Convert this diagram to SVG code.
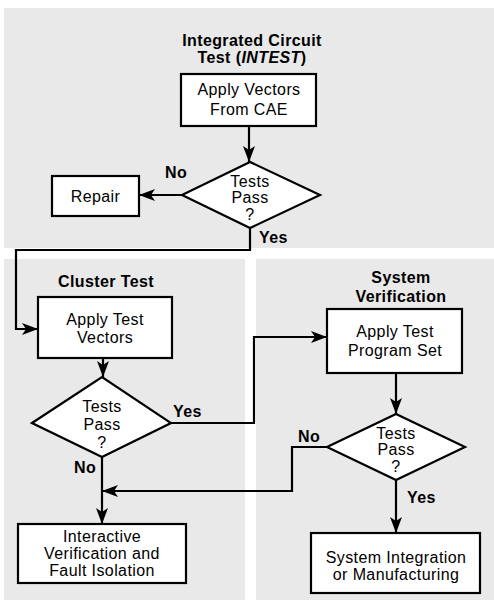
<svg xmlns="http://www.w3.org/2000/svg" width="494" height="600" viewBox="0 0 494 600">
<defs>
<style>
.panel{fill:#e9e9e9;stroke:none}
.box{fill:#fff;stroke:#000;stroke-width:2.2}
.t{font-family:"Liberation Sans",Arial,Helvetica,sans-serif;font-size:16px;letter-spacing:0.4px;fill:#000;text-anchor:middle}
.b{font-weight:bold}
.s{text-anchor:start}
.conn{fill:none;stroke:#000;stroke-width:2.2}
</style>
<marker id="ah" viewBox="0 0 16 12" refX="16" refY="6" markerWidth="16" markerHeight="12" markerUnits="userSpaceOnUse" orient="auto">
<path d="M0,0 L16,6 L0,12 L4,6 Z" fill="#000"/>
</marker>
</defs>
<g id="panels">
<rect class="panel" x="4" y="8" width="490" height="240"/>
<rect class="panel" x="4" y="259" width="241" height="341"/>
<rect class="panel" x="256" y="259" width="238" height="341"/>
</g>
<g id="titles">
<text class="t b" x="252" y="46">Integrated Circuit</text>
<text class="t b" x="252" y="63">Test (<tspan font-style="italic">INTEST</tspan>)</text>
<text class="t b" x="106" y="287">Cluster Test</text>
<text class="t b" x="401" y="283">System</text>
<text class="t b" x="401" y="302">Verification</text>
</g>
<g id="connectors">
<path class="conn" d="M249,126 V162" marker-end="url(#ah)"/>
<path class="conn" d="M182,195 H139" marker-end="url(#ah)"/>
<path class="conn" d="M250,228 V250 H16 V329 H38" marker-end="url(#ah)"/>
<path class="conn" d="M103,358 V377" marker-end="url(#ah)"/>
<path class="conn" d="M171,423 H254 V337 H327" marker-end="url(#ah)"/>
<path class="conn" d="M102,457 V524" marker-end="url(#ah)"/>
<path class="conn" d="M327,447 H292 V491 H102" marker-end="url(#ah)"/>
<path class="conn" d="M396,373 V414" marker-end="url(#ah)"/>
<path class="conn" d="M396,480 V533" marker-end="url(#ah)"/>
</g>
<g id="labels">
<text class="t b" x="176" y="178">No</text>
<text class="t b s" x="259" y="243">Yes</text>
<text class="t b s" x="173" y="417">Yes</text>
<text class="t b" x="85" y="473">No</text>
<text class="t b" x="309" y="442">No</text>
<text class="t b s" x="407" y="503">Yes</text>
</g>
<g id="apply-vectors">
<rect class="box" x="181" y="74" width="135" height="52"/>
<text class="t" x="249" y="95">Apply Vectors</text>
<text class="t" x="249" y="115">From CAE</text>
</g>
<g id="decision-1">
<polygon class="box" points="182,195 250,162 320,195 250,228"/>
<text class="t" x="250" y="187">Tests</text>
<text class="t" x="250" y="203">Pass</text>
<text class="t" x="250" y="220">?</text>
</g>
<g id="repair">
<rect class="box" x="52" y="176" width="87" height="40"/>
<text class="t" x="95.5" y="202">Repair</text>
</g>
<g id="apply-test-vectors">
<rect class="box" x="38" y="297" width="134" height="61"/>
<text class="t" x="105" y="325">Apply Test</text>
<text class="t" x="105" y="343">Vectors</text>
</g>
<g id="decision-2">
<polygon class="box" points="32,423 102,377 171,423 102,457"/>
<text class="t" x="102" y="412">Tests</text>
<text class="t" x="102" y="430">Pass</text>
<text class="t" x="102" y="448">?</text>
</g>
<g id="interactive">
<rect class="box" x="18" y="524" width="168" height="59"/>
<text class="t" x="102" y="542">Interactive</text>
<text class="t" x="102" y="559">Verification and</text>
<text class="t" x="102" y="576">Fault Isolation</text>
</g>
<g id="apply-tps">
<rect class="box" x="327" y="309" width="135" height="64"/>
<text class="t" x="395" y="337">Apply Test</text>
<text class="t" x="395" y="356">Program Set</text>
</g>
<g id="decision-3">
<polygon class="box" points="327,447 396,414 465,447 396,480"/>
<text class="t" x="396" y="439">Tests</text>
<text class="t" x="396" y="455">Pass</text>
<text class="t" x="396" y="472">?</text>
</g>
<g id="system-integration">
<rect class="box" x="311" y="533" width="169" height="60"/>
<text class="t" x="396" y="563">System Integration</text>
<text class="t" x="396" y="580">or Manufacturing</text>
</g>
</svg>
